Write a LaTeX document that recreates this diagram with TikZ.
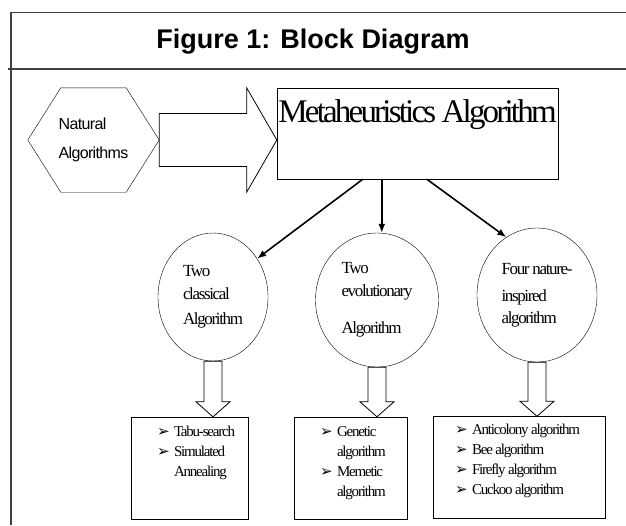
\documentclass[tikz,border=0pt]{standalone}
\usepackage{fontspec}
\setmainfont{Liberation Serif}
\newfontfamily\tightserif[LetterSpace=-8]{Liberation Serif}
\newfontfamily\headserif[LetterSpace=-8.5]{Liberation Serif}
\newfontfamily\tightsans[LetterSpace=-4]{Liberation Sans}
\newfontfamily\headsans{Liberation Sans}
\newfontfamily\dingfont{DejaVu Sans}
\usetikzlibrary{arrows.meta,calc,positioning,shapes.geometric}

% list bullet
\newcommand{\bul}{\makebox[17pt][l]{\dingfont\fontsize{15}{15}\selectfont ➢}}

% hollow block arrows between nodes
\newcommand{\rightblock}[2]{%
  \draw[hollow] let \p1=(#1.east), \p2=(#2.west) in
    (\x1,\y1+26.5pt) -- (\x2-30pt,\y1+26.5pt) -- (\x2-30pt,\y1+52pt) -- (\x2,\y1)
    -- (\x2-30pt,\y1-52pt) -- (\x2-30pt,\y1-26.5pt) -- (\x1,\y1-26.5pt) -- cycle;}
\newcommand{\downblock}[2]{%
  \draw[hollow] let \p1=(#1.south), \p2=(#2.north) in
    (\x1-9pt,\y1) -- (\x1-9pt,\y2+15pt) -- (\x1-17pt,\y2+15pt) -- (\x1,\y2)
    -- (\x1+17pt,\y2+15pt) -- (\x1+9pt,\y2+15pt) -- (\x1+9pt,\y1) -- cycle;}

\tikzset{
  frame/.style={draw=black!75, line width=1.3pt},
  hexa/.style={minimum width=131pt, minimum height=104pt, inner sep=0pt, align=left,
    font=\tightsans\fontsize{16}{29}\selectfont},
  metabox/.style={draw, minimum width=281pt, inner xsep=0pt, inner ysep=9pt,
    text height=25pt, text depth=48pt, font=\headserif\fontsize{33}{33}\selectfont},
  algcircle/.style={ellipse, draw, inner sep=0pt, align=left,
    font=\tightserif\fontsize{17}{23}\selectfont},
  listbox/.style={draw, minimum height=102pt, inner sep=0pt},
  listtext/.style={anchor=base west, inner sep=0pt,
    font=\tightserif\fontsize{15}{20}\selectfont},
  pointer/.style={-{Latex[length=9pt,width=7pt]}, line width=1.6pt},
  hollow/.style={draw, line width=0.8pt, line join=miter},
}

\begin{document}
\begin{tikzpicture}[x=1pt,y=-1pt]
\useasboundingbox (0,0) rectangle (626,525);

% frame and heading
\draw[frame] (10,12.7) -- (626,12.7);
\draw[frame] (8,69) -- (626,69);
\draw[frame] (11,12) -- (11,525);
\node[font=\headsans\bfseries\fontsize{27}{27}\selectfont] (title) at (313,42) {Figure 1: Block Diagram};

% top row
\node[hexa] (natural) at (93.5,140) {Natural\\Algorithms};
\draw (natural.west) -- ($(natural.north west)+(33,0)$) -- ($(natural.north east)+(-33,0)$)
  -- (natural.east) -- ($(natural.south east)+(-33,0)$) -- ($(natural.south west)+(33,0)$) -- cycle;
\node[metabox] (meta) at (417.5,133.5) {Metaheuristics Algorithm};
\rightblock{natural}{meta}

% algorithm families
\node[algcircle, minimum width=110pt, minimum height=128pt] (classical) at (213,297)
  {Two\\classical\\[2pt]Algorithm};
\node[algcircle, minimum width=123pt, minimum height=134pt] (evolution) at (377,300)
  {Two\\evolutionary\\[14pt]Algorithm};
\node[algcircle, minimum width=120pt, minimum height=134pt] (nature) at (537,295)
  {Four nature-\\[4pt]inspired\\[-1pt]algorithm};

\coordinate (split) at ($(meta.south west)+(105,0)$);
\draw[pointer] ($(meta.south west)+(86,0)$) -- (classical.41);
\draw[pointer] (split) -- (split |- evolution.north);
\draw[pointer] ($(meta.south west)+(150,0)$) -- (nature.118);

% lists of algorithms
\node[listbox, minimum width=117pt] (classlist) at (189.5,468) {};
\node[listbox, minimum width=113pt] (evolist) at (350.5,468) {};
\node[listbox, minimum width=172pt] (naturelist) at (519,467.5) {};

\downblock{classical}{classlist}
\downblock{evolution}{evolist}
\downblock{nature}{naturelist}

\node[listtext] (classitems) at ($(classlist.north west)+(26,20)$)
  {\begin{tabular}[t]{@{}l@{}}
   \bul Tabu-search\\
   \bul Simulated\\
   \hspace{17pt}Annealing
   \end{tabular}};
\node[listtext] (evoitems) at ($(evolist.north west)+(26,20)$)
  {\begin{tabular}[t]{@{}l@{}}
   \bul Genetic\\
   \hspace{17pt}algorithm\\
   \bul Memetic\\
   \hspace{17pt}algorithm
   \end{tabular}};
\node[listtext] (natureitems) at ($(naturelist.north west)+(22,18)$)
  {\begin{tabular}[t]{@{}l@{}}
   \bul Anticolony algorithm\\
   \bul Bee algorithm\\
   \bul Firefly algorithm\\
   \bul Cuckoo algorithm
   \end{tabular}};
\end{tikzpicture}
\end{document}
